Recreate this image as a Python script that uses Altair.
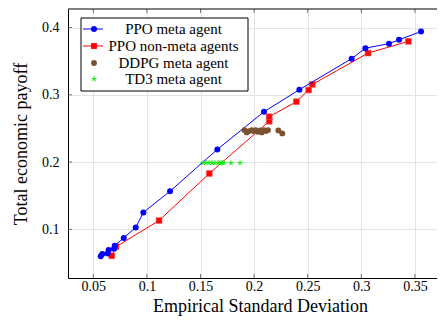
import altair as alt
import pandas as pd

# ---- data ----
ppo_meta_x = [0.0569, 0.0584, 0.0634, 0.0643, 0.0693, 0.0700, 0.0784, 0.0896, 0.0967,
              0.1216, 0.1657, 0.2092, 0.2422, 0.2910, 0.3038, 0.3258, 0.3352, 0.3557]
ppo_meta_y = [0.0599, 0.0633, 0.0640, 0.0694, 0.0713, 0.0757, 0.0873, 0.1029, 0.1252,
              0.1567, 0.2188, 0.2747, 0.3076, 0.3537, 0.3693, 0.3760, 0.3818, 0.3940]

ppo_non_x = [0.0672, 0.0712, 0.1113, 0.1582, 0.2141, 0.2141, 0.2394, 0.2509, 0.2543, 0.3063, 0.3439]
ppo_non_y = [0.0607, 0.0742, 0.1131, 0.1830, 0.2606, 0.2674, 0.2897, 0.3071, 0.3154, 0.3620, 0.3794]

ddpg_x = [0.1909, 0.1931, 0.1952, 0.1978, 0.1993, 0.2015, 0.2034, 0.2055, 0.2071,
          0.2092, 0.2111, 0.2130, 0.2226, 0.2263]
ddpg_y = [0.2475, 0.2441, 0.2460, 0.2475, 0.2460, 0.2475, 0.2450, 0.2470, 0.2441,
          0.2475, 0.2460, 0.2475, 0.2470, 0.2426]

td3_x = [0.1523, 0.1551, 0.1579, 0.1607, 0.1635, 0.1663, 0.1682, 0.1700, 0.1719, 0.1784, 0.1869]
td3_y = [0.1985, 0.1990, 0.1985, 0.1990, 0.1985, 0.1990, 0.1985, 0.1990, 0.1985, 0.1985, 0.1985]

x_ticks = [0.05, 0.1, 0.15, 0.2, 0.25, 0.3, 0.35]
y_ticks = [0.1, 0.2, 0.3, 0.4]

legend_labels = ["PPO meta agent", "PPO non-meta agents", "DDPG meta agent", "TD3 meta agent"]

x_title = "Empirical Standard Deviation"
y_title = "Total economic payoff"

# ---- layout ----
W, H = 369, 269
FONT = "Liberation Serif"
BLUE, RED, BROWN, GREEN = "#0000ff", "#ff0000", "#7b5230", "#00ee00"
STAR = "M0,-1L0,0L0.951,-0.309M0,0L0.588,0.809M0,0L-0.588,0.809M0,0L-0.951,-0.309"

xs = alt.Scale(domain=[0.0264, 0.3706], nice=False, zero=False)
ys = alt.Scale(domain=[0.0277, 0.4275], nice=False, zero=False)

x_axis = alt.Axis(values=x_ticks, format="~g", ticks=False, labelPadding=1,
                  title=x_title, titleX=192, titleY=33, titleBaseline="alphabetic",
                  titleAnchor="middle", titleAlign="center")
y_axis = alt.Axis(values=y_ticks, format="~g", ticks=False, labelPadding=9,
                  title=y_title, titleX=-42, titleY=H / 2, titleBaseline="alphabetic",
                  titleAlign="center", titleAngle=270)

def xe(field="x"):
    return alt.X(f"{field}:Q", scale=xs, axis=x_axis)

def ye(field="y"):
    return alt.Y(f"{field}:Q", scale=ys, axis=y_axis)

df_meta = pd.DataFrame({"x": ppo_meta_x, "y": ppo_meta_y, "i": range(len(ppo_meta_x))})
df_non = pd.DataFrame({"x": ppo_non_x, "y": ppo_non_y, "i": range(len(ppo_non_x))})
df_ddpg = pd.DataFrame({"x": ddpg_x, "y": ddpg_y})
df_td3 = pd.DataFrame({"x": td3_x, "y": td3_y})
df_xt = pd.DataFrame({"v": x_ticks})
df_yt = pd.DataFrame({"v": y_ticks})
one = pd.DataFrame({"k": [0]})

layers = []

# inward tick marks (bottom, top, left)
TICK = "#555555"
layers.append(alt.Chart(df_xt).mark_rule(color=TICK, strokeWidth=0.8).encode(
    x=alt.X("v:Q", scale=xs, axis=x_axis), y=alt.value(H), y2=alt.value(H - 4)))
layers.append(alt.Chart(df_xt).mark_rule(color=TICK, strokeWidth=0.8).encode(
    x=alt.X("v:Q", scale=xs, axis=x_axis), y=alt.value(0), y2=alt.value(4)))
layers.append(alt.Chart(df_yt).mark_rule(color=TICK, strokeWidth=0.8).encode(
    y=alt.Y("v:Q", scale=ys, axis=y_axis), x=alt.value(0), x2=alt.value(4)))

# series
layers.append(alt.Chart(df_non).mark_line(color=RED, strokeWidth=1).encode(
    x=xe(), y=ye(), order="i:Q"))
layers.append(alt.Chart(df_non).mark_point(shape="square", filled=True, size=34,
                                           color=RED, opacity=1, stroke="#ff5555",
                                           strokeWidth=0.6).encode(x=xe(), y=ye()))
layers.append(alt.Chart(df_meta).mark_line(color=BLUE, strokeWidth=1).encode(
    x=xe(), y=ye(), order="i:Q"))
layers.append(alt.Chart(df_meta).mark_point(shape="circle", filled=True, size=36,
                                            color=BLUE, opacity=1).encode(x=xe(), y=ye()))
layers.append(alt.Chart(df_ddpg).mark_point(shape="circle", filled=True, size=34,
                                            color=BROWN, opacity=1).encode(x=xe(), y=ye()))
layers.append(alt.Chart(df_td3).mark_point(shape=STAR, filled=False, size=30,
                                           color=GREEN, strokeWidth=1, opacity=1).encode(x=xe(), y=ye()))

# top border of the frame
layers.append(alt.Chart(one).mark_rule(color="black", strokeWidth=1).encode(
    x=alt.value(0), x2=alt.value(W), y=alt.value(0)))

# legend box
LX0, LX1, LY0, LY1 = 13, 180, 9, 82
layers.append(alt.Chart(one).mark_rect(fill="white", stroke="black", strokeWidth=1).encode(
    x=alt.value(LX0), x2=alt.value(LX1), y=alt.value(LY0), y2=alt.value(LY1)))

rows_y = [20, 37, 54, 70]
for idx, (lab, yy) in enumerate(zip(legend_labels, rows_y)):
    if idx == 0:
        layers.append(alt.Chart(one).mark_rule(color=BLUE, strokeWidth=1).encode(
            x=alt.value(15), x2=alt.value(35), y=alt.value(yy)))
        layers.append(alt.Chart(one).mark_point(shape="circle", filled=True, size=36,
                                                color=BLUE, opacity=1).encode(
            x=alt.value(26), y=alt.value(yy)))
    elif idx == 1:
        layers.append(alt.Chart(one).mark_rule(color=RED, strokeWidth=1).encode(
            x=alt.value(15), x2=alt.value(35), y=alt.value(yy)))
        layers.append(alt.Chart(one).mark_point(shape="square", filled=True, size=34,
                                                color=RED, opacity=1).encode(
            x=alt.value(26), y=alt.value(yy)))
    elif idx == 2:
        layers.append(alt.Chart(one).mark_point(shape="circle", filled=True, size=34,
                                                color=BROWN, opacity=1).encode(
            x=alt.value(26), y=alt.value(yy)))
    else:
        layers.append(alt.Chart(one).mark_point(shape=STAR, filled=False, size=30,
                                                color=GREEN, strokeWidth=1, opacity=1).encode(
            x=alt.value(26), y=alt.value(yy)))
    layers.append(alt.Chart(one).mark_text(font=FONT, fontSize=15, align="center",
                                           baseline="middle", color="black").encode(
        x=alt.value(105.5), y=alt.value(yy), text=alt.value(lab)))

chart = alt.layer(*layers).properties(
    width=W, height=H,
    autosize=alt.AutoSizeParams(type="none"),
    padding={"left": 60, "top": 1, "right": 0, "bottom": 38},
).configure_view(stroke=None).configure_axis(
    labelFont=FONT, labelFontSize=14, labelColor="black",
    titleFont=FONT, titleFontSize=18, titleFontWeight="normal", titleColor="black",
    domainColor="black", domainWidth=1,
    gridColor="#e3e3e3", gridWidth=1,
)

chart.save("out.html", embed_options={"renderer": "svg", "actions": False})
